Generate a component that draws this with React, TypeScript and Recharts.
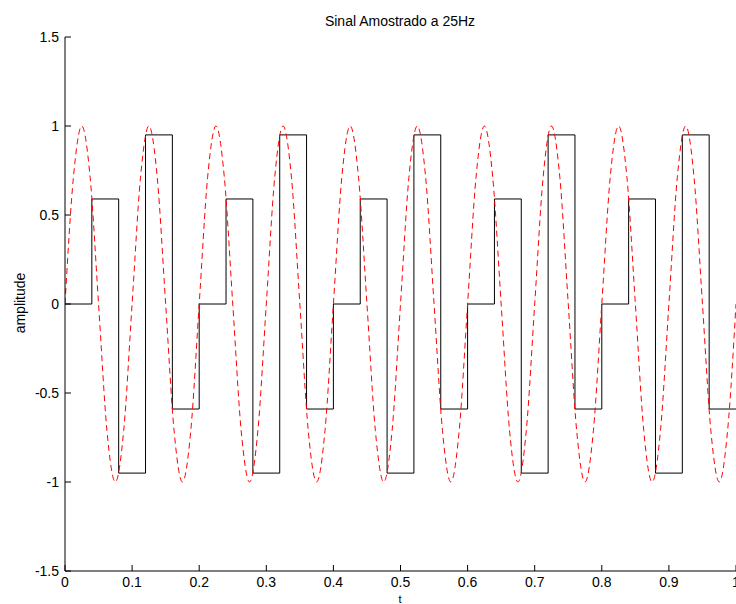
import React from 'react';
import { LineChart, Line, XAxis, YAxis } from 'recharts';

// continuous signal (red dashed), read every 0.0125 s
const sineT = [
  0, 0.0125, 0.025, 0.0375, 0.05, 0.0625, 0.075, 0.0875,
  0.1, 0.1125, 0.125, 0.1375, 0.15, 0.1625, 0.175, 0.1875,
  0.2, 0.2125, 0.225, 0.2375, 0.25, 0.2625, 0.275, 0.2875,
  0.3, 0.3125, 0.325, 0.3375, 0.35, 0.3625, 0.375, 0.3875,
  0.4, 0.4125, 0.425, 0.4375, 0.45, 0.4625, 0.475, 0.4875,
  0.5, 0.5125, 0.525, 0.5375, 0.55, 0.5625, 0.575, 0.5875,
  0.6, 0.6125, 0.625, 0.6375, 0.65, 0.6625, 0.675, 0.6875,
  0.7, 0.7125, 0.725, 0.7375, 0.75, 0.7625, 0.775, 0.7875,
  0.8, 0.8125, 0.825, 0.8375, 0.85, 0.8625, 0.875, 0.8875,
  0.9, 0.9125, 0.925, 0.9375, 0.95, 0.9625, 0.975, 0.9875,
  1.0,
];
const sineValues = [
  0, 0.71, 1, 0.71, 0, -0.71, -1, -0.71,
  0, 0.71, 1, 0.71, 0, -0.71, -1, -0.71,
  0, 0.71, 1, 0.71, 0, -0.71, -1, -0.71,
  0, 0.71, 1, 0.71, 0, -0.71, -1, -0.71,
  0, 0.71, 1, 0.71, 0, -0.71, -1, -0.71,
  0, 0.71, 1, 0.71, 0, -0.71, -1, -0.71,
  0, 0.71, 1, 0.71, 0, -0.71, -1, -0.71,
  0, 0.71, 1, 0.71, 0, -0.71, -1, -0.71,
  0, 0.71, 1, 0.71, 0, -0.71, -1, -0.71,
  0, 0.71, 1, 0.71, 0, -0.71, -1, -0.71,
  0,
];

// samples at 25Hz (black stairs), last value held to t = 1
const sampleT = [
  0, 0.04, 0.08, 0.12, 0.16,
  0.2, 0.24, 0.28, 0.32, 0.36,
  0.4, 0.44, 0.48, 0.52, 0.56,
  0.6, 0.64, 0.68, 0.72, 0.76,
  0.8, 0.84, 0.88, 0.92, 0.96,
  1.0,
];
const sampleValues = [
  0, 0.59, -0.95, 0.95, -0.59,
  0, 0.59, -0.95, 0.95, -0.59,
  0, 0.59, -0.95, 0.95, -0.59,
  0, 0.59, -0.95, 0.95, -0.59,
  0, 0.59, -0.95, 0.95, -0.59,
  -0.59,
];

const xTicks = [0, 0.1, 0.2, 0.3, 0.4, 0.5, 0.6, 0.7, 0.8, 0.9, 1];
const yTicks = [-1.5, -1, -0.5, 0, 0.5, 1, 1.5];

const sineData = sineT.map((t, i) => ({ t, v: sineValues[i] }));
const sampleData = sampleT.map((t, i) => ({ t, v: sampleValues[i] }));

const FONT = '"Liberation Sans", Arial, Helvetica, sans-serif';

const YTick = (props: any) => {
  const { x, y, payload } = props;
  return (
    <g>
      <line x1={x} y1={y} x2={x + 6} y2={y} stroke="#000" />
      <text x={x - 6} y={y + 5} textAnchor="end" fontSize={14} fontFamily={FONT} fill="#000">
        {payload.value}
      </text>
    </g>
  );
};

const XTick = (props: any) => {
  const { x, y, payload } = props;
  return (
    <g>
      <line x1={x} y1={y} x2={x} y2={y - 6} stroke="#000" />
      <text x={x} y={y + 16} textAnchor="middle" fontSize={14} fontFamily={FONT} fill="#000">
        {payload.value}
      </text>
    </g>
  );
};

export default function App() {
  return (
    <div style={{ position: 'absolute', left: 0, top: 0, width: 736, height: 604, background: '#fff' }}>
      <LineChart width={736} height={604} margin={{ top: 37, right: 0, left: 0, bottom: 0 }}>
        <XAxis
          type="number"
          dataKey="t"
          domain={[0, 1]}
          ticks={xTicks}
          interval={0}
          height={33}
          tickSize={0}
          tickMargin={0}
          tickLine={false}
          axisLine={{ stroke: '#000' }}
          tick={<XTick />}
          allowDataOverflow
        />
        <YAxis
          type="number"
          domain={[-1.5, 1.5]}
          ticks={yTicks}
          interval={0}
          width={65}
          tickSize={0}
          tickMargin={0}
          tickLine={false}
          axisLine={{ stroke: '#000' }}
          tick={<YTick />}
          allowDataOverflow
        />
        <Line
          data={sampleData}
          dataKey="v"
          type="stepAfter"
          stroke="#000"
          strokeWidth={1}
          dot={false}
          isAnimationActive={false}
        />
        <Line
          data={sineData}
          dataKey="v"
          type="monotone"
          stroke="#ff0000"
          strokeWidth={1}
          strokeDasharray="6 4"
          dot={false}
          isAnimationActive={false}
        />
      </LineChart>
      <svg
        width={736}
        height={604}
        style={{ position: 'absolute', left: 0, top: 0, pointerEvents: 'none' }}
      >
        <text x={400} y={26} textAnchor="middle" fontSize={14} fontFamily={FONT} fill="#000">
          Sinal Amostrado a 25Hz
        </text>
        <text
          x={25}
          y={303}
          transform="rotate(-90 25 303)"
          textAnchor="middle"
          fontSize={14}
          fontFamily={FONT}
          fill="#000"
        >
          amplitude
        </text>
        <text x={400} y={603} textAnchor="middle" fontSize={11} fontFamily={FONT} fill="#000">
          t
        </text>
      </svg>
    </div>
  );
}
